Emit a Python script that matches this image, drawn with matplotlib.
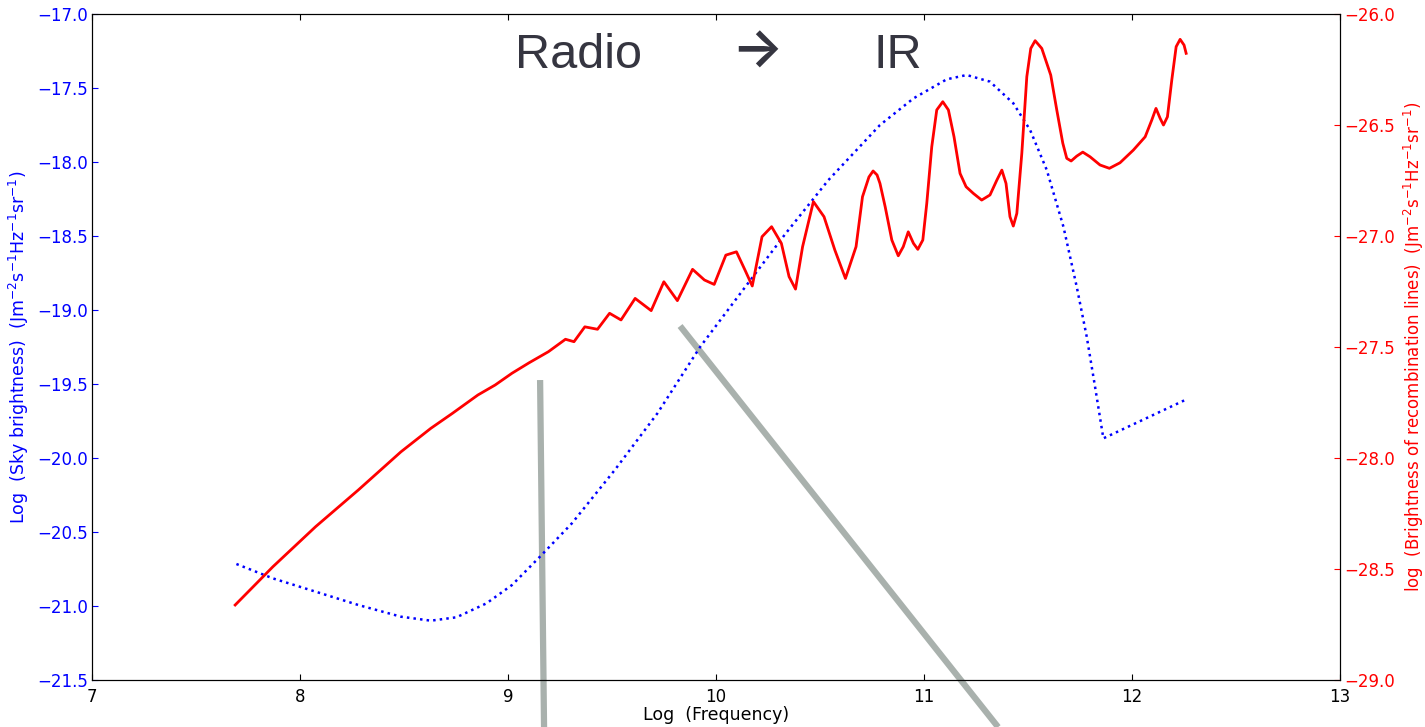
import matplotlib
matplotlib.use("Agg")
import matplotlib.pyplot as plt
from matplotlib.ticker import FuncFormatter

# log frequency / log sky brightness (left axis)
sky_freq = [7.694, 7.869, 8.075, 8.280, 8.485, 8.629, 8.752, 8.896, 9.019, 9.153,
            9.307, 9.513, 9.718, 9.924, 10.129, 10.335, 10.540, 10.788, 10.949,
            11.109, 11.205, 11.317, 11.429, 11.510, 11.590, 11.670, 11.734, 11.782,
            11.822, 11.862, 12.255]
sky_bright = [-20.716, -20.813, -20.903, -20.993, -21.072, -21.099, -21.076, -20.982,
              -20.858, -20.667, -20.441, -20.081, -19.698, -19.248, -18.865, -18.482,
              -18.122, -17.750, -17.570, -17.441, -17.412, -17.457, -17.603, -17.784,
              -18.054, -18.437, -18.843, -19.180, -19.518, -19.867, -19.608]

# log frequency / log brightness of recombination lines (right axis)
rec_freq = [7.688, 7.869, 8.075, 8.280, 8.485, 8.629, 8.732, 8.855, 8.938, 9.019,
            9.101, 9.194, 9.276, 9.317, 9.369, 9.430, 9.488, 9.543, 9.611, 9.688,
            9.749, 9.814, 9.887, 9.944, 9.991, 10.047, 10.098, 10.139, 10.174, 10.221,
            10.267, 10.314, 10.351, 10.382, 10.416, 10.468, 10.519, 10.571, 10.622,
            10.673, 10.704, 10.735, 10.755, 10.774, 10.788, 10.813, 10.845, 10.876,
            10.900, 10.924, 10.949, 10.970, 10.994, 11.013, 11.037, 11.061, 11.090,
            11.117, 11.144, 11.173, 11.202, 11.237, 11.277, 11.317, 11.350, 11.374,
            11.394, 11.413, 11.429, 11.446, 11.470, 11.494, 11.513, 11.534, 11.566,
            11.609, 11.638, 11.667, 11.686, 11.707, 11.734, 11.763, 11.798, 11.846,
            11.891, 11.942, 12.006, 12.063, 12.095, 12.115, 12.135, 12.151, 12.170,
            12.191, 12.212, 12.231, 12.250, 12.260]
rec_bright = [-28.662, -28.490, -28.309, -28.144, -27.972, -27.866, -27.799, -27.716,
              -27.671, -27.618, -27.571, -27.521, -27.465, -27.476, -27.409, -27.420,
              -27.348, -27.378, -27.281, -27.336, -27.206, -27.291, -27.150, -27.198,
              -27.218, -27.086, -27.071, -27.153, -27.225, -27.003, -26.958, -27.033,
              -27.183, -27.239, -27.048, -26.845, -26.913, -27.063, -27.191, -27.048,
              -26.823, -26.734, -26.707, -26.725, -26.763, -26.868, -27.018, -27.089,
              -27.048, -26.981, -27.033, -27.060, -27.018, -26.853, -26.598, -26.432,
              -26.395, -26.432, -26.553, -26.718, -26.778, -26.808, -26.838, -26.815,
              -26.748, -26.703, -26.763, -26.913, -26.955, -26.898, -26.627, -26.282,
              -26.155, -26.120, -26.155, -26.275, -26.432, -26.582, -26.650, -26.662,
              -26.640, -26.622, -26.643, -26.680, -26.695, -26.670, -26.613, -26.553,
              -26.477, -26.425, -26.470, -26.500, -26.463, -26.297, -26.147, -26.114,
              -26.140, -26.177]

# grey pointer strokes (left-axis units)
pointer_a = ([9.154, 9.173], [-19.473, -21.818])
pointer_b = ([9.827, 11.356], [-19.108, -21.818])


def minus_fmt(v, pos):
    return f'{v:.1f}'.replace('-', '\u2212')


plt.rcParams['xtick.direction'] = 'in'
plt.rcParams['ytick.direction'] = 'in'
plt.rcParams['xtick.top'] = True
plt.rcParams['xtick.major.size'] = 4
plt.rcParams['ytick.major.size'] = 4
plt.rcParams['xtick.major.pad'] = 6

fig = plt.figure(figsize=(14.25, 7.27), dpi=100)
ax = fig.add_axes([0.0646, 0.0646, 0.8758, 0.9161])
ax2 = ax.twinx()

ax.plot(*pointer_a, color='#a9b1ad', lw=4.5, clip_on=False, zorder=1,
        solid_capstyle='butt')
ax.plot(*pointer_b, color='#a9b1ad', lw=4.5, clip_on=False, zorder=1,
        solid_capstyle='butt')
ax.plot(sky_freq, sky_bright, color='blue', ls=':', lw=1.8, zorder=2)
ax2.plot(rec_freq, rec_bright, color='red', lw=2.0, solid_joinstyle='round')

ax.set_xlim(7, 13)
ax.set_ylim(-21.5, -17.0)
ax2.set_ylim(-29.0, -26.0)
ax.set_xticks(range(7, 14))
ax.set_yticks([-21.5 + 0.5 * i for i in range(10)])
ax2.set_yticks([-29.0 + 0.5 * i for i in range(7)])
ax.yaxis.set_major_formatter(FuncFormatter(minus_fmt))
ax2.yaxis.set_major_formatter(FuncFormatter(minus_fmt))

ax.tick_params(axis='x', labelsize=12)
ax.tick_params(axis='y', labelsize=12, colors='blue', pad=3)
ax2.tick_params(axis='y', labelsize=12, colors='red', pad=3)

ax.set_xlabel('Log  (Frequency)', fontsize=12.5, labelpad=0)
ax.set_ylabel(r'Log  (Sky brightness)  (Jm$^{-2}$s$^{-1}$Hz$^{-1}$sr$^{-1}$)',
              fontsize=12.5, color='blue', labelpad=4)
ax2.set_ylabel(r'log  (Brightness of recombination lines)  (Jm$^{-2}$s$^{-1}$Hz$^{-1}$sr$^{-1}$)',
               fontsize=12, color='red', labelpad=5)

# heading across the top of the plot
title_font = ['Liberation Sans', 'DejaVu Sans']
fig.text(515 / 1425, 1 - 68 / 727, 'Radio', fontsize=35, color='#353540',
         family=title_font, ha='left', va='baseline')
fig.text(731 / 1425, 1 - 67 / 727, '\u2192', fontsize=39, color='#353540',
         family=['Inter', 'DejaVu Sans'], weight='semibold', ha='left',
         va='baseline')
fig.text(873 / 1425, 1 - 68 / 727, 'IR', fontsize=35, color='#353540',
         family=title_font, ha='left', va='baseline')

fig.savefig('out.png', dpi=100)
